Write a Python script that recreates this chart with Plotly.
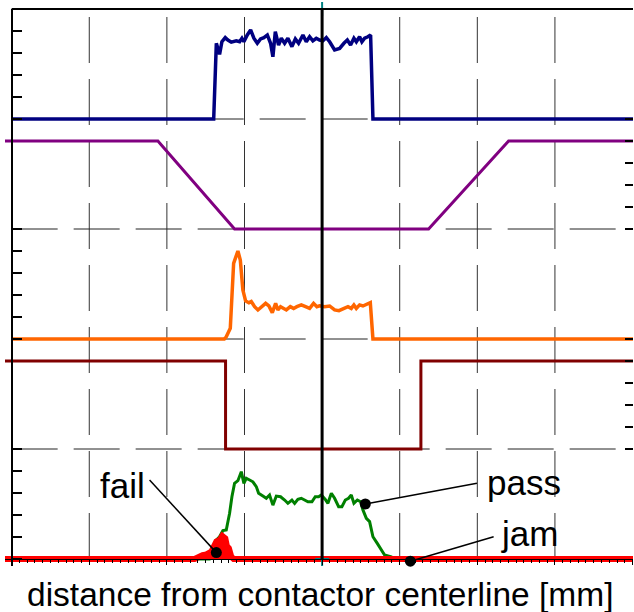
import plotly.graph_objects as go

# ---------------- data (x: distance, y: signal level within its panel) ----------------
NAVY_X = [-4.0, -1.397, -1.363, -1.321, -1.291, -1.248, -1.214, -1.170, -1.106, -1.063,
          -1.033, -1.008, -0.964, -0.921, -0.879, -0.835, -0.793, -0.750, -0.706, -0.664,
          -0.634, -0.603, -0.561, -0.526, -0.483, -0.441, -0.389, -0.345, -0.303, -0.247,
          -0.204, -0.161, -0.119, -0.075, -0.032, 0.010, 0.054, 0.097, 0.161, 0.226,
          0.281, 0.325, 0.367, 0.410, 0.441, 0.483, 0.513, 0.548, 0.590, 0.625, 0.655, 4.006]
NAVY_Y = [0, 0, 3.44, 2.94, 3.51, 3.70, 3.59, 3.49, 3.55, 3.51,
          3.67, 3.51, 3.82, 4.05, 3.67, 3.44, 3.64, 3.70, 3.82, 3.44,
          2.83, 3.97, 3.36, 3.67, 3.44, 3.67, 3.29, 3.64, 3.44, 3.82,
          3.51, 3.74, 3.55, 3.67, 3.59, 3.55, 3.70, 3.51, 3.14, 3.21,
          3.44, 3.59, 3.36, 3.67, 3.51, 3.74, 3.51, 3.67, 3.74, 3.82, 0, 0]

PURPLE_X = [-4.086, -2.116, -1.128, 1.372, 2.403, 4.006]
PURPLE_Y = [4, 4, 0, 0, 4, 4]

ORANGE_X = [-4.0, -1.260, -1.235, -1.183, -1.140, -1.115, -1.085, -1.054, -1.021, -0.986,
            -0.943, -0.913, -0.870, -0.827, -0.784, -0.728, -0.686, -0.642, -0.599, -0.570,
            -0.535, -0.505, -0.461, -0.410, -0.367, -0.325, -0.268, -0.213, -0.161, -0.110,
            -0.067, -0.032, 0.032, 0.097, 0.161, 0.217, 0.277, 0.333, 0.376, 0.410,
            0.441, 0.483, 0.526, 0.570, 0.621, 0.655, 4.006]
ORANGE_Y = [0, 0, 0.10, 0.49, 3.44, 3.74, 4.00, 3.59, 2.23, 1.73,
            1.65, 1.70, 1.47, 1.32, 1.47, 1.62, 1.50, 1.20, 1.62, 1.32,
            1.47, 1.39, 1.32, 1.47, 1.39, 1.47, 1.55, 1.47, 1.39, 1.62,
            1.47, 1.51, 1.47, 1.50, 1.32, 1.29, 1.39, 1.47, 1.39, 1.55,
            1.39, 1.55, 1.50, 1.58, 1.65, 0, 0]

DARKRED_X = [-4.086, -1.244, -1.244, 1.273, 1.273, 4.006]
DARKRED_Y = [4, 4, 0, 0, 4, 4]

GREEN_X = [-4.086, -1.450, -1.411, -1.363, -1.321, -1.278, -1.235, -1.192, -1.162, -1.128,
           -1.085, -1.041, -1.008, -0.977, -0.934, -0.892, -0.848, -0.818, -0.763, -0.719,
           -0.677, -0.634, -0.590, -0.535, -0.483, -0.441, -0.389, -0.354, -0.312, -0.268,
           -0.226, -0.183, -0.131, -0.088, -0.045, -0.010, 0.041, 0.075, 0.119, 0.161,
           0.213, 0.255, 0.299, 0.341, 0.376, 0.410, 0.454, 0.496, 0.526, 0.570,
           0.612, 0.655, 0.711, 0.754, 0.805, 0.892, 0.934, 4.006]
GREEN_Y = [0, 0, 0.20, 0.86, 1.01, 1.29, 1.32, 2.08, 2.83, 3.44,
           3.56, 3.97, 3.44, 3.67, 3.59, 3.51, 3.29, 2.99, 2.86, 2.76,
           2.91, 2.45, 2.86, 2.83, 2.68, 2.53, 2.68, 2.53, 2.71, 2.76,
           2.68, 2.60, 2.60, 2.83, 2.83, 2.91, 2.71, 2.53, 2.99, 2.76,
           2.38, 2.38, 2.68, 2.76, 2.91, 2.53, 2.68, 2.60, 2.23, 1.85,
           1.70, 1.01, 0.71, 0.44, 0.18, 0.10, 0, 0]

RED_X = [-4.086, -1.643, -1.540, -1.492, -1.428, -1.363, -1.321, -1.286, -1.247, -1.227,
         -1.201, -1.170, -1.140, 4.006]
RED_Y = [0, 0, 0.18, 0.21, 0.33, 0.79, 0.86, 1.05, 0.94, 0.59,
         0.49, 0.10, 0, 0]

CALLOUT_TEXT = ["fail", "pass", "jam"]
CALLOUT_POINT_X = [-1.363, 0.557, 1.137]
CALLOUT_POINT_Y = [0.29, 2.50, -0.10]

X_TITLE = "distance from contactor centerline [mm]"

# ---------------- layout constants ----------------
W, H = 634, 612
X_RANGE = [-4.086, 4.006]
Y_RANGE = [-0.318, 25]
PANEL = 5
OFFSETS = [20, 15, 10, 5, 0, 0]   # navy, purple, orange, darkred, green, red
CALLOUT_END = [(-2.223, 3.59), (1.995, 3.44), (2.210, 1.01)]
CALLOUT_LABEL = [(-2.26, 3.32, "right"), (2.094, 3.50, "left"), (2.275, 1.18, "left")]

fig = go.Figure()


def add_line(xs, ys, off, color, width, yaxis="y", **kw):
    fig.add_trace(go.Scatter(x=xs, y=[v + off for v in ys], mode="lines",
                             line=dict(color=color, width=width),
                             hoverinfo="skip", showlegend=False, yaxis=yaxis, **kw))


add_line(NAVY_X, NAVY_Y, OFFSETS[0], "#000080", 3.5)
add_line(PURPLE_X, PURPLE_Y, OFFSETS[1], "#800080", 3, yaxis="y2")
add_line(ORANGE_X, ORANGE_Y, OFFSETS[2], "#FF6600", 3.5)
add_line(DARKRED_X, DARKRED_Y, OFFSETS[3], "#800000", 3, yaxis="y2")
add_line(GREEN_X, GREEN_Y, OFFSETS[4], "#008000", 3)
add_line(RED_X, RED_Y, OFFSETS[5], "#FF0000", 6, fill="tozeroy", fillcolor="#FF0000")

# callout leader lines and dots
for i in range(len(CALLOUT_TEXT)):
    ex, ey = CALLOUT_END[i]
    fig.add_trace(go.Scatter(x=[CALLOUT_POINT_X[i], ex], y=[CALLOUT_POINT_Y[i], ey],
                             mode="lines", line=dict(color="black", width=1.5),
                             hoverinfo="skip", showlegend=False))
fig.add_trace(go.Scatter(x=CALLOUT_POINT_X, y=CALLOUT_POINT_Y, mode="markers",
                         marker=dict(color="black", size=11), cliponaxis=False,
                         hoverinfo="skip", showlegend=False))

# teal cross markers at the centerline ends
fig.add_trace(go.Scatter(x=[0, 0], y=[Y_RANGE[1], 0], mode="markers",
                         marker=dict(symbol="cross-thin", size=10,
                                     line=dict(color="#008080", width=2)),
                         cliponaxis=False, hoverinfo="skip", showlegend=False))

shapes = []
dash = "46px,16px"
for gx in [-3, -2, -1, 1, 2, 3]:
    shapes.append(dict(type="line", xref="x", yref="y", x0=gx, x1=gx, y0=0, y1=Y_RANGE[1],
                       line=dict(color="#333333", width=1, dash=dash), layer="below"))
for gy in [5, 10, 15, 20]:
    shapes.append(dict(type="line", xref="x", yref="y", x0=-4, x1=X_RANGE[1], y0=gy, y1=gy,
                       line=dict(color="#222222", width=1, dash=dash), layer="below"))
# centerline
shapes.append(dict(type="line", xref="x", yref="y", x0=0, x1=0, y0=0, y1=Y_RANGE[1],
                   line=dict(color="black", width=3), layer="above"))
# top border
shapes.append(dict(type="line", xref="x", yref="paper", x0=-4, x1=X_RANGE[1], y0=1, y1=1,
                   line=dict(color="black", width=2), layer="above"))

annotations = []
for i, t in enumerate(CALLOUT_TEXT):
    lx, ly, anc = CALLOUT_LABEL[i]
    annotations.append(dict(x=lx, y=ly, xref="x", yref="y", text=t, showarrow=False,
                            xanchor=anc, yanchor="middle",
                            font=dict(family="Liberation Sans Narrow, Arial Narrow, Liberation Sans, Arial",
                                      size=35, color="black")))
annotations.append(dict(x=0, y=(594 - 566) / -557.0, xref="x", yref="paper", text=X_TITLE,
                        showarrow=False, xanchor="center", yanchor="middle", xshift=-2,
                        font=dict(family="Liberation Sans, Arial", size=33.5, color="black")))

left_ticks = [v for p in (0, 2, 4) for v in range(p * PANEL, p * PANEL + PANEL + 1)]
right_ticks = [v for p in (1, 3) for v in range(p * PANEL, p * PANEL + PANEL + 1)]

pos_left = (-4 - X_RANGE[0]) / (X_RANGE[1] - X_RANGE[0])
pos_bottom = (0 - Y_RANGE[0]) / (Y_RANGE[1] - Y_RANGE[0])

fig.update_layout(
    width=W, height=H, autosize=False,
    margin=dict(l=5, r=1, t=9, b=46, pad=0),
    paper_bgcolor="white", plot_bgcolor="white",
    showlegend=False,
    shapes=shapes, annotations=annotations,
    xaxis=dict(range=X_RANGE, anchor="free", position=pos_bottom,
               showline=True, linecolor="black", linewidth=1,
               ticks="outside", ticklen=5, tickwidth=1, tickcolor="black",
               tick0=0, dtick=1,
               minor=dict(ticks="outside", ticklen=3, tickwidth=1, tickcolor="black", dtick=0.1),
               showticklabels=False, showgrid=False, zeroline=False, fixedrange=True),
    yaxis=dict(range=Y_RANGE, anchor="free", position=pos_left,
               showline=True, linecolor="black", linewidth=2,
               ticks="inside", ticklen=9, tickwidth=2, tickcolor="black",
               tickmode="array", tickvals=left_ticks,
               showticklabels=False, showgrid=False, zeroline=False, fixedrange=True),
    yaxis2=dict(range=Y_RANGE, overlaying="y", side="right", anchor="x",
                showline=False,
                ticks="inside", ticklen=8, tickwidth=2, tickcolor="black",
                tickmode="array", tickvals=right_ticks,
                showticklabels=False, showgrid=False, zeroline=False, fixedrange=True),
)

fig.write_html("out.html", config={"displayModeBar": False},
               post_script="document.body.style.margin='0';document.body.style.overflow='hidden';")
